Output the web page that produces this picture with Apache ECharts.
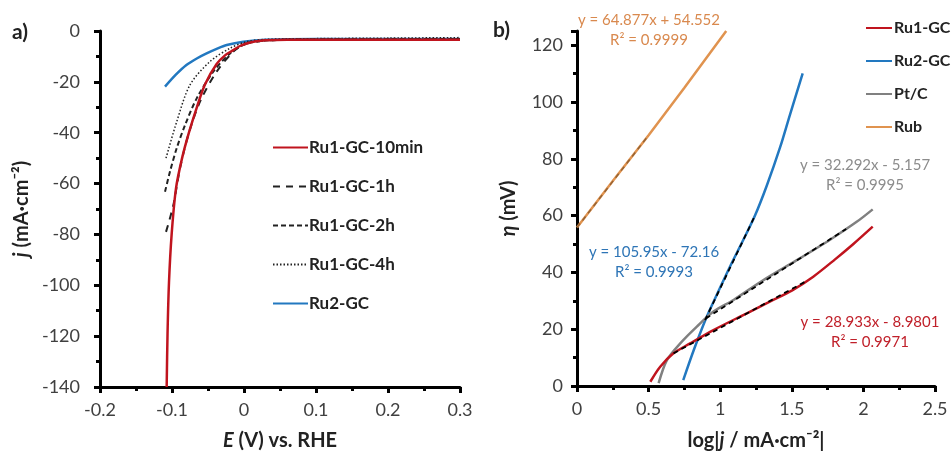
<!DOCTYPE html>
<html><head><meta charset="utf-8">
<script src="https://cdn.jsdelivr.net/npm/echarts@6/dist/echarts.min.js"></script>
<style>html,body{margin:0;padding:0;background:#fff}#c{width:951px;height:459px}</style>
</head><body><div id="c"></div>
<script>
// ---------- Panel a data: E (V vs RHE) / j (mA cm-2) ----------
var aXTicks = [-0.2, -0.1, 0, 0.1, 0.2, 0.3];
var aYTicks = [0, -20, -40, -60, -80, -100, -120, -140];
var E_10min = [-0.1074,-0.1062,-0.1042,-0.1005,-0.0945,-0.0860,-0.0765,-0.0655,-0.0542,-0.0380,-0.0260,-0.0148,-0.0050,0.0037,0.0150,0.0300,0.0600,0.1,0.15,0.2,0.25,0.3];
var j_10min = [-140,-119,-99,-80,-62,-50,-40,-30,-21,-13,-9.5,-7.5,-5.8,-4.9,-4.1,-3.6,-3.4,-3.4,-3.4,-3.4,-3.4,-3.4];
var E_1h = [-0.1083,-0.0981,-0.0889,-0.0774,-0.0611,-0.0380,-0.0148,0.0,0.02,0.05,0.1,0.2,0.3];
var j_1h = [-79,-68.4,-54,-40.9,-27.8,-16,-8.1,-5.3,-4,-3.5,-3.3,-3.3,-3.2];
var E_2h = [-0.1097,-0.1028,-0.0935,-0.0819,-0.0657,-0.0426,-0.0194,0.0,0.02,0.05,0.1,0.2,0.3];
var j_2h = [-63.2,-55.3,-46.1,-37,-26.5,-16,-8.8,-5.3,-4,-3.5,-3.3,-3.2,-3.1];
var E_4h = [-0.1083,-0.0935,-0.075,-0.0472,-0.0194,0.0037,0.03,0.1,0.2,0.3];
var j_4h = [-50,-35.7,-21.2,-12,-6.8,-4.2,-3.3,-3.0,-2.8,-2.6];
var E_Ru2 = [-0.1097,-0.095,-0.08,-0.065,-0.052,-0.038,-0.024,-0.001,0.03,0.1,0.2,0.3];
var j_Ru2 = [-21.9,-17.3,-13.4,-10.7,-8.8,-7.0,-5.5,-4.2,-3.4,-3.1,-3.1,-3.1];

// ---------- Panel b data: log|j| / eta (mV) ----------
var bXTicks = [0, 0.5, 1, 1.5, 2, 2.5];
var bYTicks = [0, 20, 40, 60, 80, 100, 120];
var logj_Rub = [0.0, 0.25, 0.5, 0.75, 1.042];
var eta_Rub = [55.8, 72.2, 88.3, 105.0, 125.0];
var logj_Ru2 = [0.742,0.82,0.906,0.99,1.068,1.16,1.243,1.325,1.418,1.487,1.576];
var eta_Ru2 = [2.1,13.3,24.4,33.6,42,51.3,60,70.5,84,95.5,110.1];
var logj_Pt = [0.57,0.628,0.721,0.837,0.953,1.093,1.302,1.535,1.767,1.953,2.065];
var eta_Pt = [1,9.1,15,20.9,26.2,30.3,37.3,44.3,51.5,57.8,62.2];
var logj_Ru1 = [0.512,0.581,0.674,0.79,0.953,1.186,1.35,1.5,1.65,1.8,1.93,2.065];
var eta_Ru1 = [1.5,6.8,11.5,15,19.7,25.6,29.8,33.6,38.5,44.5,50,56.1];
// linear-fit overlays (end points)
var fitRub_x = [0.0, 0.5], fitRub_y = [55.8, 88.3];
var fitRu2_x = [0.894, 1.243], fitRu2_y = [23.2, 60.0];
var fitPt_x = [0.90, 1.88], fitPt_y = [23.8, 55.3];
var fitRu1_x = [0.674, 1.6], fitRu1_y = [11.5, 36.9];

var eqTexts = {
  rub: ['y = 64.877x + 54.552', 'R² = 0.9999'],
  ru2: ['y = 105.95x - 72.16', 'R² = 0.9993'],
  pt:  ['y = 32.292x - 5.157', 'R² = 0.9995'],
  ru1: ['y = 28.933x - 8.9801', 'R² = 0.9971']
};

function zip(a, b) { return a.map(function (v, i) { return [v, b[i]]; }); }

var RED = '#C0141E', BLUE = '#2278C0', GRAY = '#808080', ORANGE = '#E0934F';
var FONT = 'Lato, "Open Sans", sans-serif';

function axisCommon() {
  return {
    axisLine: { show: true, onZero: false, lineStyle: { color: '#000', width: 3 } },
    axisTick: { show: true, inside: false, length: 6, lineStyle: { color: '#000', width: 3 } },
    minorTick: { show: true, splitNumber: 2, length: 4, lineStyle: { color: '#000', width: 3 } },
    splitLine: { show: false },
    axisLabel: { color: '#404040', fontSize: 18, fontFamily: FONT, margin: 14 }
  };
}
function nameStyle() {
  return { fontSize: 20, fontWeight: 'bold', color: '#222', fontFamily: FONT,
    rich: { i: { fontStyle: 'italic', fontWeight: 'bold', fontSize: 20, color: '#222', fontFamily: FONT } } };
}

var xA = Object.assign(axisCommon(), {
  type: 'value', gridIndex: 0, min: aXTicks[0], max: aXTicks[aXTicks.length - 1], interval: 0.1,
  name: '{i|E} (V) vs. RHE', nameLocation: 'middle', nameGap: 44, nameTextStyle: nameStyle()
});
xA.axisLabel.formatter = function (v) { return v === 0 ? '0' : String(+v.toFixed(1)); };
var yA = Object.assign(axisCommon(), {
  type: 'value', gridIndex: 0, min: aYTicks[aYTicks.length - 1], max: aYTicks[0], interval: 20,
  name: '{i|j} (mA·cm⁻²)', nameLocation: 'middle', nameGap: 68, nameRotate: 90, nameTextStyle: nameStyle()
});
yA.axisLabel.margin = 20;
var xB = Object.assign(axisCommon(), {
  type: 'value', gridIndex: 1, min: bXTicks[0], max: bXTicks[bXTicks.length - 1], interval: 0.5,
  name: 'log|{i|j} / mA·cm⁻²|', nameLocation: 'middle', nameGap: 45, nameTextStyle: nameStyle()
});
var yB = Object.assign(axisCommon(), {
  type: 'value', gridIndex: 1, min: bYTicks[0], max: 125, interval: 20,
  name: '{i|η} (mV)', nameLocation: 'middle', nameGap: 58, nameRotate: 90, nameTextStyle: nameStyle()
});
yB.axisLabel.margin = 14;
yB.axisLabel.showMaxLabel = false;

function lineSeries(name, xi, data, color, type, width, smooth) {
  return {
    name: name, type: 'line', xAxisIndex: xi, yAxisIndex: xi, data: data,
    showSymbol: false, symbol: 'none', smooth: smooth === undefined ? 0.3 : smooth,
    lineStyle: { color: color, width: width || 2.5, type: type || 'solid' },
    itemStyle: { color: color }, silent: true, animation: false
  };
}

var series = [
  lineSeries('Ru2-GC', 0, zip(E_Ru2, j_Ru2), BLUE, 'solid', 2.5),
  lineSeries('Ru1-GC-4h', 0, zip(E_4h, j_4h), '#222', [1.5, 2], 1.5),
  lineSeries('Ru1-GC-2h', 0, zip(E_2h, j_2h), '#222', [5, 3], 2),
  lineSeries('Ru1-GC-1h', 0, zip(E_1h, j_1h), '#222', [7, 6], 2),
  lineSeries('Ru1-GC-10min', 0, zip(E_10min, j_10min), RED, 'solid', 2.5),
  lineSeries('Rub', 1, zip(logj_Rub, eta_Rub), ORANGE, 'solid', 2.5, false),
  lineSeries('Ru2-GC', 1, zip(logj_Ru2, eta_Ru2), BLUE, 'solid', 2.5),
  lineSeries('Pt/C', 1, zip(logj_Pt, eta_Pt), GRAY, 'solid', 2.5),
  lineSeries('Ru1-GC', 1, zip(logj_Ru1, eta_Ru1), RED, 'solid', 2.5),
  lineSeries('fitRub', 1, zip(fitRub_x, fitRub_y), 'rgba(90,60,30,0.55)', [5, 4], 1.5, false),
  lineSeries('fitRu2', 1, zip(fitRu2_x, fitRu2_y), '#000', [5, 4], 1.8, false),
  lineSeries('fitPt', 1, zip(fitPt_x, fitPt_y), '#000', [5, 4], 1.8, false),
  lineSeries('fitRu1', 1, zip(fitRu1_x, fitRu1_y), '#000', [5, 4], 1.8, false)
];

function eq(x, y, lines, color) {
  return {
    type: 'text', x: x, y: y, silent: true,
    style: { text: lines.join('\n'), fill: color, font: '15px ' + FONT, align: 'center', lineHeight: 20 }
  };
}

var option = {
  backgroundColor: '#fff',
  animation: false,
  grid: [
    { left: 100, top: 31, width: 360, height: 356, containLabel: false },
    { left: 577, top: 31, width: 358, height: 355, containLabel: false }
  ],
  xAxis: [xA, xB],
  yAxis: [yA, yB],
  legend: [
    {
      data: ['Ru1-GC-10min', 'Ru1-GC-1h', 'Ru1-GC-2h', 'Ru1-GC-4h', 'Ru2-GC'],
      orient: 'vertical', left: 267, top: 134, itemWidth: 35, itemHeight: 14, itemGap: 22,
      itemStyle: { opacity: 0 },
      textStyle: { fontSize: 17, fontWeight: 'bold', color: '#222', fontFamily: FONT, padding: [0, 0, 0, -4] },
      selectedMode: false
    },
    {
      data: ['Ru1-GC', 'Ru2-GC', 'Pt/C', 'Rub'],
      orient: 'vertical', left: 860, top: 15, itemWidth: 26, itemHeight: 14, itemGap: 17,
      itemStyle: { opacity: 0 },
      textStyle: { fontSize: 16, fontWeight: 'bold', color: '#222', fontFamily: FONT, padding: [0, 0, 0, -3] },
      selectedMode: false
    }
  ],
  graphic: [
    { type: 'text', x: 12, y: 22, style: { text: 'a)', font: 'bold 21px ' + FONT, fill: '#222' } },
    { type: 'text', x: 493, y: 20, style: { text: 'b)', font: 'bold 21px ' + FONT, fill: '#222' } },
    eq(649, 10, eqTexts.rub, '#D9894E'),
    eq(654, 242, eqTexts.ru2, '#2E75B6'),
    eq(865, 155, eqTexts.pt, '#8C8C8C'),
    eq(870, 312, eqTexts.ru1, '#C0202A')
  ],
  series: series
};

var chart = echarts.init(document.getElementById('c'), null, { renderer: 'canvas' });
chart.setOption(option);
</script>
</body></html>
